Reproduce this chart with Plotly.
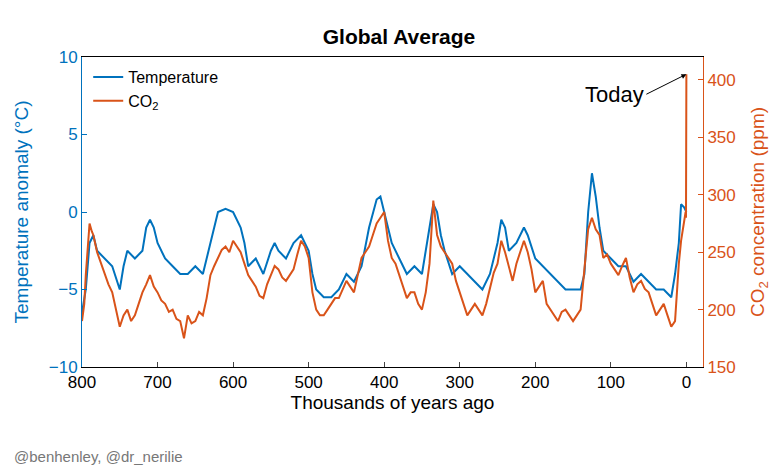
import plotly.graph_objects as go

# thousands of years ago
temp_kyr = [800, 795, 790, 785, 780, 770, 760, 750, 745, 740, 730, 720, 715, 710, 705, 700,
            690, 680, 670, 660, 650, 640, 630, 620, 610, 600, 590, 585, 580, 570, 560, 550,
            545, 540, 530, 520, 510, 500, 495, 490, 480, 470, 460, 450, 440, 430, 420, 410,
            405, 400, 395, 390, 380, 370, 360, 350, 340, 335, 330, 325, 320, 310, 300, 290,
            280, 270, 260, 250, 245, 240, 235, 225, 215, 210, 200, 190, 180, 170, 160, 150,
            140, 135, 130, 125, 120, 115, 110, 100, 90, 80, 70, 60, 50, 40, 30, 20, 15, 10,
            7, 3, 0]
temp = [-6.5, -5, -2, -1.5, -2.5, -3, -3.5, -5, -3.5, -2.5, -3, -2.5, -1, -0.5, -1, -2,
        -3, -3.5, -4, -4, -3.5, -4, -2, 0, 0.2, 0, -1, -2, -3.5, -3, -4, -2.5,
        -2, -2.5, -3, -2, -1.5, -2.5, -4, -5, -5.5, -5.5, -5, -4, -4.5, -3.5, -1, 0.8,
        1, 0, -1, -2, -3, -4, -3.5, -4, -1, 0.5, 0, -1.5, -2.5, -4, -3.5, -4,
        -4.5, -5, -4, -2, -0.5, -1, -2.5, -2, -1, -1.5, -3, -3.5, -4, -4.5, -5, -5,
        -5, -4, 0, 2.5, 1, -1, -2.5, -3, -3.5, -3.5, -4.5, -4, -4.5, -5, -5, -5.5, -4, -2,
        0.5, 0.3, 0]

co2_kyr = [800, 797, 795, 790, 787, 785, 780, 775, 770, 765, 760, 755, 750, 745, 740, 735,
           730, 725, 720, 715, 710, 705, 700, 695, 690, 685, 680, 675, 670, 665, 660, 655,
           650, 645, 640, 635, 630, 625, 620, 615, 610, 605, 600, 595, 590, 585, 580, 575,
           570, 565, 560, 555, 550, 545, 540, 535, 530, 525, 520, 515, 510, 505, 500, 495,
           490, 485, 480, 475, 470, 465, 460, 455, 450, 445, 440, 435, 430, 425, 420, 415,
           410, 405, 400, 395, 390, 385, 380, 375, 370, 365, 360, 355, 350, 345, 340, 335,
           330, 325, 320, 315, 310, 305, 300, 295, 290, 285, 280, 275, 270, 265, 260, 255,
           250, 245, 240, 235, 230, 225, 220, 215, 210, 205, 200, 195, 190, 185, 180, 175,
           170, 165, 160, 155, 150, 145, 140, 135, 130, 125, 120, 115, 110, 105, 100, 95,
           90, 85, 80, 75, 70, 65, 60, 55, 50, 45, 40, 35, 30, 25, 20, 15, 10, 7, 5, 3,
           1, 0.5, 0]
co2 = [190, 205, 230, 275, 268, 265, 250, 240, 230, 222, 215, 200, 185, 195, 200, 190,
       195, 205, 215, 222, 230, 220, 215, 208, 205, 198, 200, 192, 190, 175, 195, 188,
       190, 198, 195, 210, 230, 238, 245, 252, 255, 250, 260, 255, 250, 240, 230, 225,
       220, 212, 210, 222, 230, 238, 235, 228, 225, 230, 235, 248, 260, 255, 245, 215,
       200, 195, 195, 200, 205, 210, 210, 218, 225, 220, 215, 230, 245, 250, 255, 265,
       275, 280, 285, 260, 245, 240, 230, 222, 210, 215, 215, 205, 200, 215, 240, 295,
       265, 255, 250, 245, 240, 225, 215, 205, 195, 200, 205, 200, 195, 205, 220, 232,
       240, 260, 250, 238, 225, 240, 250, 260, 250, 235, 215, 220, 225, 205, 200, 195,
       190, 198, 200, 195, 190, 195, 200, 235, 270, 280, 270, 265, 245, 248, 240, 235,
       230, 238, 245, 228, 215, 222, 225, 218, 215, 205, 195, 200, 205, 195, 185, 190, 240, 260, 270, 275,
       285, 280, 405]

blue = "#0072BD"
orange = "#D95319"

fig = go.Figure()
fig.add_trace(go.Scatter(x=temp_kyr, y=temp, name="Temperature", mode="lines",
                         line=dict(color=blue, width=2)))
fig.add_trace(go.Scatter(x=co2_kyr, y=co2, name="CO<sub>2</sub>", mode="lines", yaxis="y2",
                         line=dict(color=orange, width=2)))

fig.add_annotation(x=0, y=405, yref="y2", ax=-40, ay=20, text="Today", showarrow=True,
                   arrowhead=2, arrowwidth=1, arrowcolor="black", xanchor="right",
                   font=dict(size=22, color="black"))
fig.add_annotation(x=0, y=0, xref="paper", yref="paper", xshift=-70, yshift=-100,
                   text="@benhenley, @dr_nerilie", showarrow=False, xanchor="left",
                   font=dict(size=15, color="#777777"))

fig.update_layout(
    width=782, height=474,
    margin=dict(l=70, r=87, t=49, b=115),
    plot_bgcolor="white", paper_bgcolor="white",
    font=dict(family="Liberation Sans, Arial", size=17, color="black"),
    title=dict(text="<b>Global Average</b>", x=0.5, y=0.955, xanchor="center",
               font=dict(size=21)),
    legend=dict(x=0.01, y=0.99, bgcolor="rgba(0,0,0,0)", font=dict(size=16)),
    xaxis=dict(range=[800, -22], tickvals=[800, 700, 600, 500, 400, 300, 200, 100, 0],
               title=dict(text="Thousands of years ago", font=dict(size=19), standoff=4),
               showgrid=False, zeroline=False, showline=True, linecolor="black",
               mirror=True, ticks="inside", ticklen=5),
    yaxis=dict(range=[-10, 10], tickvals=[-10, -5, 0, 5, 10],
               title=dict(text="Temperature anomaly (°C)", font=dict(size=19, color=blue)),
               tickfont=dict(color=blue), showgrid=False, zeroline=False, showline=True,
               linecolor=blue, ticks="inside", ticklen=5, tickcolor=blue),
    yaxis2=dict(range=[150, 420], tickvals=[150, 200, 250, 300, 350, 400], overlaying="y",
                side="right",
                title=dict(text="CO<sub>2</sub> concentration (ppm)", font=dict(size=19, color=orange)),
                tickfont=dict(color=orange), showgrid=False, zeroline=False, showline=True,
                linecolor=orange, ticks="inside", ticklen=5, tickcolor=orange),
)

fig.write_html("out.html")
